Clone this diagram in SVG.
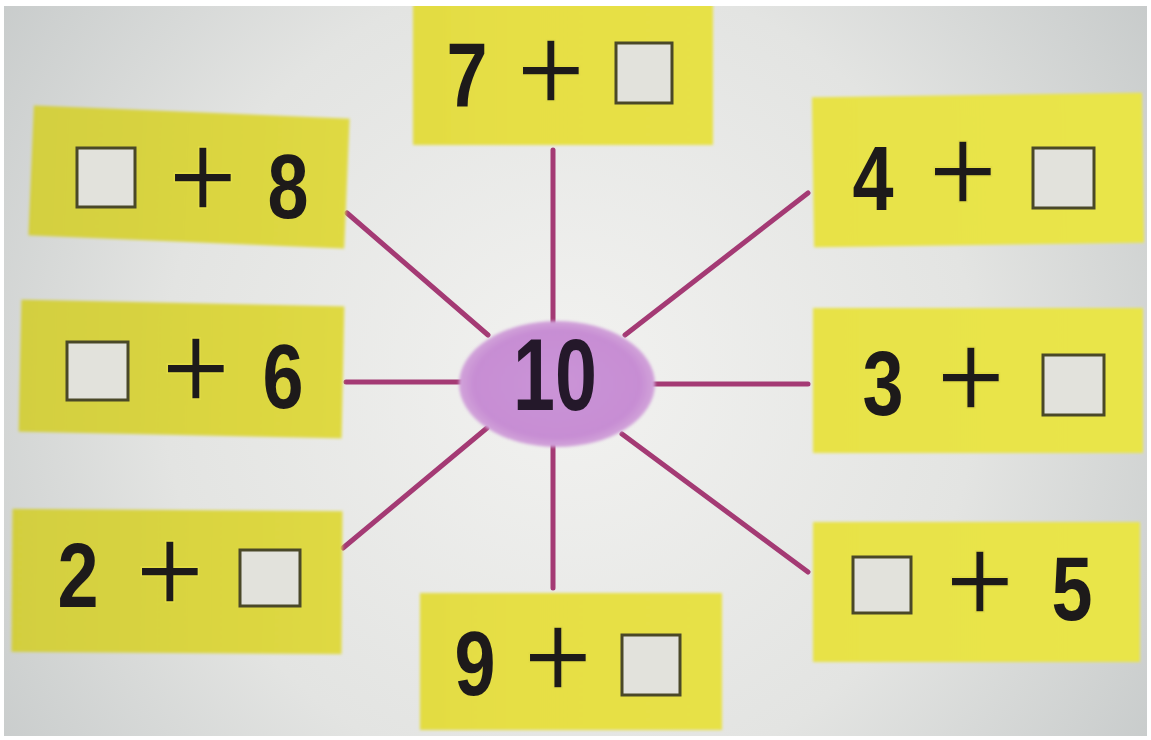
<svg xmlns="http://www.w3.org/2000/svg" width="1151" height="740" viewBox="0 0 1151 740">
<defs>
<radialGradient id="paper" cx="570" cy="380" r="740" gradientUnits="userSpaceOnUse">
<stop offset="0" stop-color="#f2f2f0"/>
<stop offset="0.55" stop-color="#e3e4e2"/>
<stop offset="1" stop-color="#c3c7c7"/>
</radialGradient>
<linearGradient id="yel" x1="0" y1="0" x2="1151" y2="0" gradientUnits="userSpaceOnUse">
<stop offset="0" stop-color="#d2ce3e"/>
<stop offset="0.45" stop-color="#e6df44"/>
<stop offset="1" stop-color="#e9e54a"/>
</linearGradient>
<radialGradient id="ell" cx="0.5" cy="0.5" r="0.5">
<stop offset="0" stop-color="#ca94d7"/>
<stop offset="0.85" stop-color="#c78dd3"/>
<stop offset="1" stop-color="#d2a4da"/>
</radialGradient>
<filter id="soft" x="-5%" y="-5%" width="110%" height="110%"><feGaussianBlur stdDeviation="1.6"/></filter>
</defs>
<style>
.card{fill:url(#yel);filter:url(#soft)}
.blank{fill:#e2e2dc;stroke:#4a4828;stroke-width:3}
.dig{font-family:"Liberation Sans",Arial,sans-serif;font-weight:bold;font-size:90px;fill:#1d1a1a;text-anchor:middle}
.plus{font-family:"Liberation Sans",Arial,sans-serif;font-size:124px;fill:#1d1a1a;stroke:#e2dc45;stroke-width:1.6;paint-order:normal;text-anchor:middle}
.ten{font-family:"Liberation Sans",Arial,sans-serif;font-weight:bold;font-size:102px;fill:#24182a;text-anchor:middle}
#connectors line{stroke:#a43a74;stroke-width:5;stroke-linecap:round}
</style>
<rect x="0" y="0" width="1151" height="740" fill="url(#paper)"/>

<g id="connectors">
<line x1="553" y1="150" x2="553" y2="325"/>
<line x1="553" y1="445" x2="553" y2="588"/>
<line x1="346" y1="382" x2="462" y2="382"/>
<line x1="653" y1="384" x2="808" y2="384"/>
<line x1="347" y1="213" x2="488" y2="335"/>
<line x1="808" y1="193" x2="625" y2="335"/>
<line x1="343" y1="548" x2="487" y2="428"/>
<line x1="808" y1="572" x2="622" y2="434"/>
</g>

<g id="center">
<ellipse cx="557" cy="384" rx="98" ry="63" fill="url(#ell)" filter="url(#soft)"/>
<text class="ten" transform="translate(555,410) scale(0.74,1)">10</text>
</g>

<g id="n-top">
<rect class="card" x="413" y="0" width="300" height="145"/>
<text class="dig" transform="translate(467,106) scale(0.82,1)">7</text>
<text class="plus" transform="translate(551,112) scale(0.95,1)">+</text>
<rect class="blank" x="616" y="43" width="56" height="60"/>
</g>

<g id="n-upper-left">
<rect class="card" x="31" y="112" width="316" height="130" transform="rotate(2.4 189 177)"/>
<rect class="blank" x="77" y="148" width="58" height="59"/>
<text class="plus" transform="translate(203,219) scale(0.95,1)">+</text>
<text class="dig" transform="translate(288,218) scale(0.82,1)">8</text>
</g>

<g id="n-mid-left">
<rect class="card" x="20" y="303" width="323" height="132" transform="rotate(1.2 181 369)"/>
<rect class="blank" x="67" y="342" width="61" height="58"/>
<text class="plus" transform="translate(196,410) scale(0.95,1)">+</text>
<text class="dig" transform="translate(283,408) scale(0.82,1)">6</text>
</g>

<g id="n-lower-left">
<rect class="card" x="12" y="510" width="330" height="143" transform="rotate(0.4 177 581)"/>
<text class="dig" transform="translate(78,607) scale(0.82,1)">2</text>
<text class="plus" transform="translate(170,613) scale(0.95,1)">+</text>
<rect class="blank" x="240" y="550" width="60" height="56"/>
</g>

<g id="n-bottom">
<rect class="card" x="420" y="593" width="302" height="137"/>
<text class="dig" transform="translate(475,695) scale(0.82,1)">9</text>
<text class="plus" transform="translate(558,699) scale(0.95,1)">+</text>
<rect class="blank" x="622" y="635" width="58" height="60"/>
</g>

<g id="n-upper-right">
<rect class="card" x="813" y="95" width="330" height="150" transform="rotate(-0.8 978 170)"/>
<text class="dig" transform="translate(873,210) scale(0.82,1)">4</text>
<text class="plus" transform="translate(963,213) scale(0.95,1)">+</text>
<rect class="blank" x="1033" y="148" width="61" height="60"/>
</g>

<g id="n-mid-right">
<rect class="card" x="813" y="308" width="330" height="145"/>
<text class="dig" transform="translate(883,415) scale(0.82,1)">3</text>
<text class="plus" transform="translate(971,419) scale(0.95,1)">+</text>
<rect class="blank" x="1043" y="355" width="61" height="60"/>
</g>

<g id="n-lower-right">
<rect class="card" x="813" y="522" width="327" height="140"/>
<rect class="blank" x="853" y="557" width="58" height="56"/>
<text class="plus" transform="translate(980,623) scale(0.95,1)">+</text>
<text class="dig" transform="translate(1072,620) scale(0.82,1)">5</text>
</g>

<rect x="0" y="0" width="1151" height="6" fill="#ffffff"/>
<rect x="0" y="0" width="4" height="740" fill="#ffffff"/>
<rect x="1147" y="0" width="4" height="740" fill="#ffffff"/>
<rect x="0" y="736" width="1151" height="4" fill="#ffffff"/>
</svg>
